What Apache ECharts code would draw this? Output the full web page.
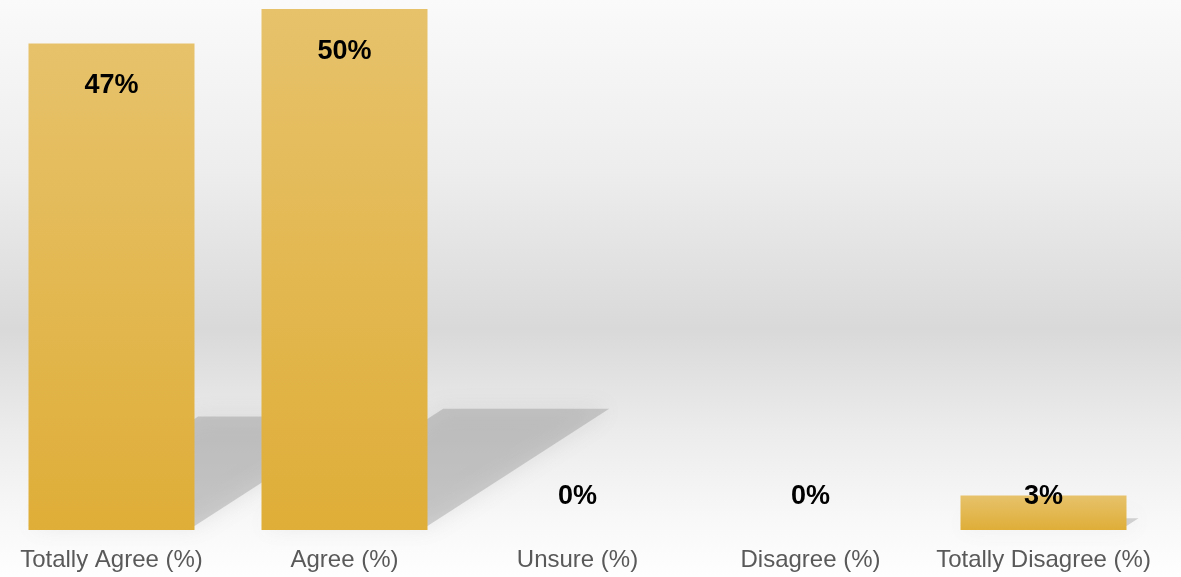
<!DOCTYPE html>
<html><head><meta charset="utf-8">
<script src="https://cdn.jsdelivr.net/npm/echarts@6/dist/echarts.min.js"></script>
<style>html,body{margin:0;padding:0;overflow:hidden;width:1181px;height:577px;position:relative;}#c{position:absolute;left:-5px;top:0;width:1187px;height:577px;}</style>
</head><body><div id="c"></div>
<script>
const categories = ['Totally Agree (%)', 'Agree (%)', 'Unsure (%)', 'Disagree (%)', 'Totally Disagree (%)'];
const values = [46.7, 50.0, 0, 0, 3.3];
const labels = ['47%', '50%', '0%', '0%', '3%'];

const chart = echarts.init(document.getElementById('c'));
const barData = values.map((v, i) => {
  let lab;
  if (v === 0) lab = {position: 'top', distance: 20};
  else if (v < 10) lab = {position: 'insideTop', distance: 0, offset: [0, -13]};
  else lab = {position: 'insideTop', distance: 29};
  return {value: v, label: lab};
});
chart.setOption({
  backgroundColor: {type: 'linear', x: 0, y: 0, x2: 0, y2: 1, colorStops: [
    {offset: 0, color: '#fafafa'},
    {offset: 0.3, color: '#ededed'},
    {offset: 0.57, color: '#d9d9d9'},
    {offset: 0.75, color: '#ececec'},
    {offset: 0.9, color: '#f8f8f8'},
    {offset: 1, color: '#fefefe'}
  ]},
  animation: false,
  grid: {left: 0, right: 22, top: 9, bottom: 47, containLabel: false},
  xAxis: {type: 'category', data: categories,
    axisLine: {show: false}, axisTick: {show: false},
    axisLabel: {interval: 0, color: '#595959', fontSize: 24, fontFamily: 'Liberation Sans, Arial, sans-serif', margin: 18}},
  yAxis: {type: 'value', min: 0, max: 50, show: false, splitLine: {show: false}},
  series: [
    {
      type: 'custom', z: 1,
      data: values.map((v, i) => [i, v]),
      renderItem: function (params, api) {
        const i = api.value(0), v = api.value(1);
        if (!v) return null;
        const base = api.coord([i, 0]);
        const top = api.coord([i, v]);
        const h = base[1] - top[1];
        const dy = h * 0.225, dx = dy * 1.55;
        const half = 83;
        const L = base[0] - half, R = base[0] + half, B = base[1] - 4;
        return {
          type: 'polygon',
          shape: {points: [[L, B], [L + dx, B - dy], [R + dx, B - dy], [R, B]]},
          style: {fill: 'rgba(120,120,120,0.3)', shadowBlur: 22, shadowColor: 'rgba(120,120,120,0.45)'}
        };
      }
    },
    {
      type: 'bar', z: 2, barWidth: 166,
      data: barData,
      itemStyle: {color: {type: 'linear', x: 0, y: 0, x2: 0, y2: 1, colorStops: [
        {offset: 0, color: '#e7c26b'}, {offset: 1, color: '#dfae38'}]}},
      label: {show: true, color: '#000', fontWeight: 'bold', fontSize: 27,
        fontFamily: 'Liberation Sans, Arial, sans-serif',
        formatter: p => labels[p.dataIndex]}
    }
  ]
});
</script></body></html>
